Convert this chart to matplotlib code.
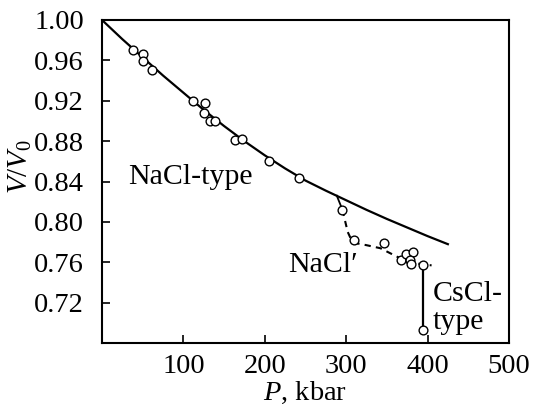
import numpy as np
import matplotlib.pyplot as plt

plt.rcParams['font.family'] = ['Liberation Serif', 'DejaVu Serif']
plt.rcParams['mathtext.fontset'] = 'custom'
plt.rcParams['mathtext.it'] = 'Liberation Serif:italic'
plt.rcParams['mathtext.rm'] = 'Liberation Serif'

# NaCl-type compression curve
curve_p = [0, 25, 50, 75, 100, 125, 150, 175, 200, 225, 250, 275, 300, 325, 350, 375, 400, 425]
curve_v = [1.000, 0.981, 0.963, 0.945, 0.928, 0.911, 0.895, 0.880, 0.866, 0.853,
           0.841, 0.831, 0.8215, 0.812, 0.803, 0.7945, 0.786, 0.778]

# measured points
pts_p = [38, 50.5, 51, 62, 112, 127, 125, 133, 139, 164, 172, 205.5, 241.5,
         295.5, 310, 346, 367, 373.6, 382, 378.5, 380, 394, 394]
pts_v = [0.970, 0.966, 0.959, 0.950, 0.920, 0.918, 0.908, 0.900, 0.900, 0.881, 0.882,
         0.860, 0.844, 0.812, 0.782, 0.779, 0.762, 0.768, 0.770, 0.762, 0.758, 0.757, 0.693]

# NaCl' branch
branch_p = [288.5, 295.5]
branch_v = [0.826, 0.812]
dash_p = [295.5, 299, 302, 306, 312, 325, 342, 364, 385, 405]
dash_v = [0.812, 0.800, 0.790, 0.783, 0.779, 0.777, 0.774, 0.765, 0.759, 0.757]

# CsCl-type jump
jump_p = [394, 394]
jump_v = [0.757, 0.693]

fig = plt.figure(figsize=(5.34, 4.08), dpi=100)
ax = fig.add_axes([0.191, 0.159, 0.762, 0.792])

ax.plot(curve_p, curve_v, color='black', lw=1.6)
ax.plot(branch_p, branch_v, color='black', lw=1.3)
ax.plot(dash_p, dash_v, color='black', lw=1.5, ls=(0, (3, 2.5)))
ax.plot(jump_p, jump_v, color='black', lw=1.6)
ax.plot(pts_p, pts_v, 'o', ms=6.3, mfc='white', mec='black', mew=1.0, ls='none')

ax.text(32, 0.8375, 'NaCl-type', fontsize=21.5, ha='left', va='baseline')
ax.text(272, 0.757, "NaCl\u2032", fontsize=21.5, ha='center', va='center')
ax.text(406.5, 0.7214, 'CsCl-', fontsize=21.5, ha='left', va='baseline')
ax.text(406.5, 0.6935, 'type', fontsize=21.5, ha='left', va='baseline')

ax.set_xlim(0, 500)
ax.set_ylim(0.68, 1.00)
ax.set_xticks([100, 200, 300, 400, 500])
ax.set_yticks([0.72, 0.76, 0.80, 0.84, 0.88, 0.92, 0.96, 1.00])
ax.set_yticklabels(['0.72', '0.76', '0.80', '0.84', '0.88', '0.92', '0.96', '1.00'])
ax.tick_params(axis='both', direction='in', length=6, width=1.2, labelsize=20.5)
ax.tick_params(axis='x', pad=8)
ax.tick_params(axis='y', pad=13)
for s in ax.spines.values():
    s.set_linewidth(1.5)

ax.set_xlabel(r'$P$, kbar', fontsize=20.5)
ax.set_ylabel(r'$V/V_0$', fontsize=21)
ax.xaxis.set_label_coords(0.5, -0.115)
ax.yaxis.set_label_coords(-0.168, 0.548)

fig.savefig('out.png', dpi=100)
